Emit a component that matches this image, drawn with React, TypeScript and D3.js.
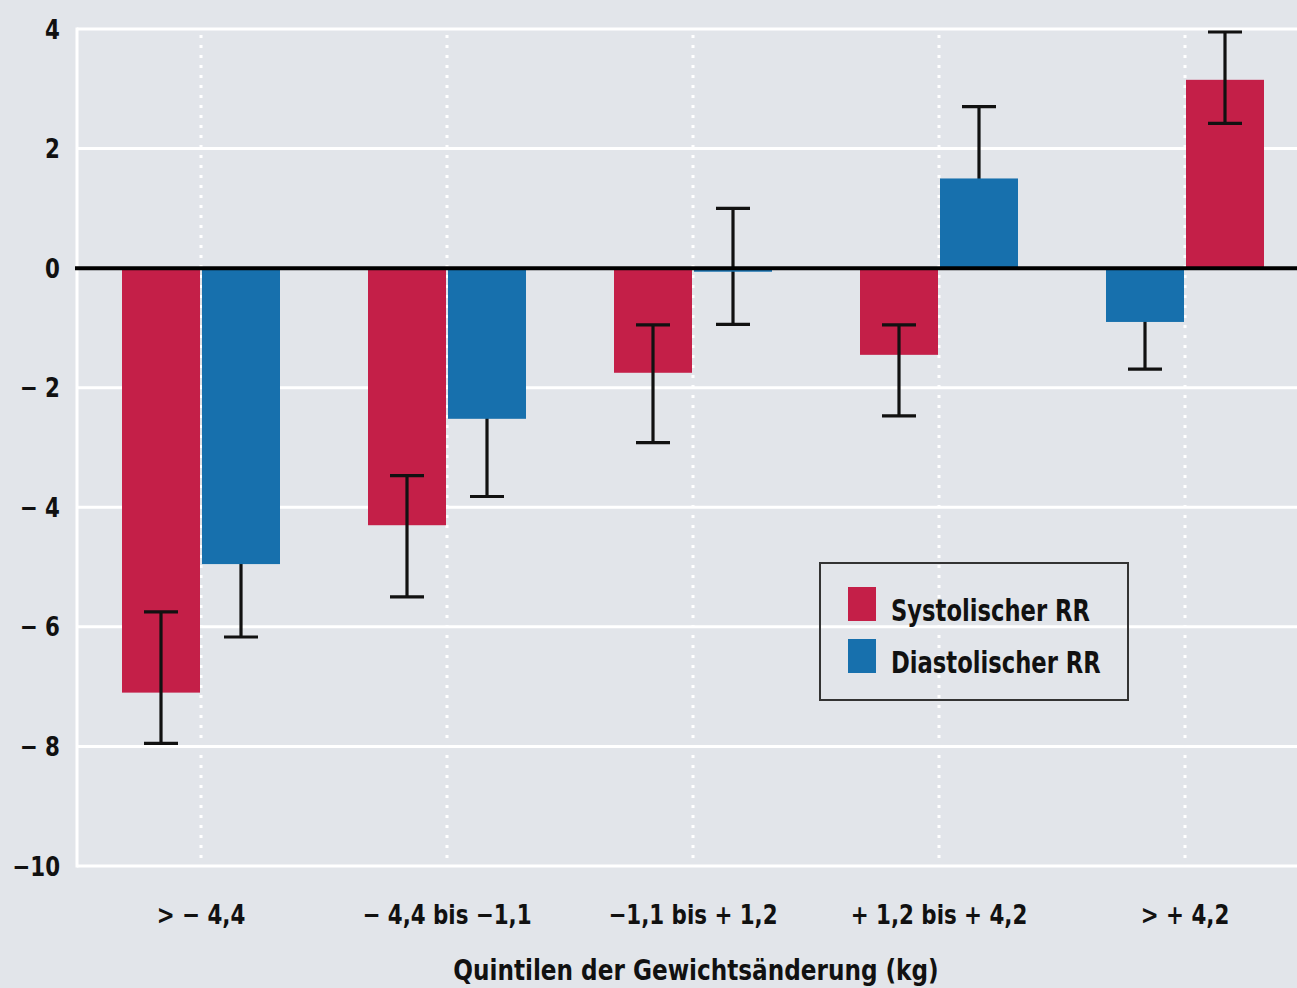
import React from "react";
import * as d3 from "d3";

const W = 1297;
const H = 988;

// Quintilen der Gewichtsänderung
const categories = ["> − 4,4", "− 4,4 bis −1,1", "−1,1 bis + 1,2", "+ 1,2 bis + 4,2", "> + 4,2"];
// mean change in mmHg
const systolic = [-7.1, -4.3, -1.75, -1.45, 3.15];
const systolicLo = [-7.95, -5.5, -2.92, -2.47, 2.42];
const systolicHi = [-5.75, -3.47, -0.95, -0.95, 3.95];
const diastolic = [-4.95, -2.52, -0.06, 1.5, -0.9];
const diastolicLo = [-6.17, -3.82, -0.94, 0.3, -1.69];
const diastolicHi = [-3.73, -1.2, 1.0, 2.7, -0.1];
// which series stands left in each group
const firstSeries = ["sys", "sys", "sys", "sys", "dia"];

const yTicks = [-10, -8, -6, -4, -2, 0, 2, 4];
const yTickLabels = ["−10", "− 8", "− 6", "− 4", "− 2", "0", "2", "4"];

const RED = "#c41f48";
const BLUE = "#1770ad";
const BG = "#e2e5ea";
const FONT = "'DejaVu Sans Condensed', 'DejaVu Sans', sans-serif";

const margin = { left: 77, top: 29, bottom: 866 };

// narrow bold text, squeezed horizontally
const Narrow = ({ x, y, size, sx, anchor = "start", children }: any) => (
  <g transform={`translate(${x},${y}) scale(${sx},1)`}>
    <text textAnchor={anchor} fontFamily={FONT} fontWeight="bold" fontSize={size} fill="#111">
      {children}
    </text>
  </g>
);

export default function App() {
  const x = d3.scaleBand<string>().domain(categories).range([78, 1308]).paddingInner(0);
  const y = d3.scaleLinear().domain([-10, 4]).range([margin.bottom, margin.top]);
  const inner = d3.scaleBand<string>().domain(["0", "1"]).range([0, 158]).paddingInner(0.025);

  const series = {
    sys: { vals: systolic, lo: systolicLo, hi: systolicHi, color: RED },
    dia: { vals: diastolic, lo: diastolicLo, hi: diastolicHi, color: BLUE },
  };

  const bars = categories.flatMap((c, i) => {
    const cx = (x(c) as number) + x.bandwidth() / 2;
    const order = firstSeries[i] === "sys" ? ["sys", "dia"] : ["dia", "sys"];
    return order.map((k, j) => {
      const s = series[k as "sys" | "dia"];
      const x0 = cx - 79 + (inner(String(j)) as number);
      return { key: `${k}-${i}`, k, x0, w: inner.bandwidth(), v: s.vals[i], lo: s.lo[i], hi: s.hi[i], color: s.color };
    });
  });

  const capW = 34;
  const errBar = (b: typeof bars[number]) => {
    const mx = b.x0 + b.w / 2;
    return (
      <g key={"e" + b.key} stroke="#111" strokeWidth={3.2}>
        <line x1={mx} x2={mx} y1={y(b.lo)} y2={y(b.hi)} />
        <line x1={mx - capW / 2} x2={mx + capW / 2} y1={y(b.lo)} y2={y(b.lo)} />
        <line x1={mx - capW / 2} x2={mx + capW / 2} y1={y(b.hi)} y2={y(b.hi)} />
      </g>
    );
  };

  return (
    <svg width={W} height={H} style={{ position: "absolute", left: 0, top: 0, display: "block" }}>
      <rect width={W} height={H} fill={BG} />
      {/* grid */}
      {yTicks.filter((t) => t !== 0).map((t) => (
        <line key={t} x1={margin.left} x2={W} y1={y(t)} y2={y(t)} stroke="#fff" strokeWidth={3} />
      ))}
      <line x1={margin.left} x2={margin.left} y1={y(4) - 1.5} y2={y(-10) + 1.5} stroke="#fff" strokeWidth={3} />
      {categories.map((c) => {
        const cx = (x(c) as number) + x.bandwidth() / 2;
        return (
          <line key={c} x1={cx} x2={cx} y1={y(4) + 6} y2={y(-10)} stroke="#fff" strokeWidth={3} strokeDasharray="3 7" />
        );
      })}
      {/* diastolic error bars sit behind their bars */}
      {bars.filter((b) => b.k === "dia").map(errBar)}
      {bars.map((b) => (
        <rect key={b.key} x={b.x0} width={b.w} y={y(Math.max(0, b.v))} height={Math.abs(y(b.v) - y(0))} fill={b.color} />
      ))}
      {bars.filter((b) => b.k === "sys").map(errBar)}
      <line x1={margin.left - 2} x2={W} y1={y(0)} y2={y(0)} stroke="#000" strokeWidth={4} />
      {/* y tick labels */}
      {yTicks.map((t, i) => (
        <Narrow key={t} x={60} y={y(t) + 9.5} size={27} sx={0.88} anchor="end">
          {yTickLabels[i]}
        </Narrow>
      ))}
      {/* x labels */}
      {categories.map((c) => (
        <Narrow key={c} x={(x(c) as number) + x.bandwidth() / 2} y={924} size={27} sx={0.88} anchor="middle">
          {c}
        </Narrow>
      ))}
      <Narrow x={696} y={980} size={28} sx={0.92} anchor="middle">
        Quintilen der Gewichtsänderung (kg)
      </Narrow>
      {/* legend */}
      <g>
        <rect x={820} y={563} width={308} height={137} fill="none" stroke="#333" strokeWidth={2} />
        <rect x={848} y={587} width={28} height={34} fill={RED} />
        <rect x={848} y={639} width={28} height={34} fill={BLUE} />
        <Narrow x={891} y={621} size={30} sx={0.84}>Systolischer RR</Narrow>
        <Narrow x={891} y={673} size={30} sx={0.84}>Diastolischer RR</Narrow>
      </g>
    </svg>
  );
}
